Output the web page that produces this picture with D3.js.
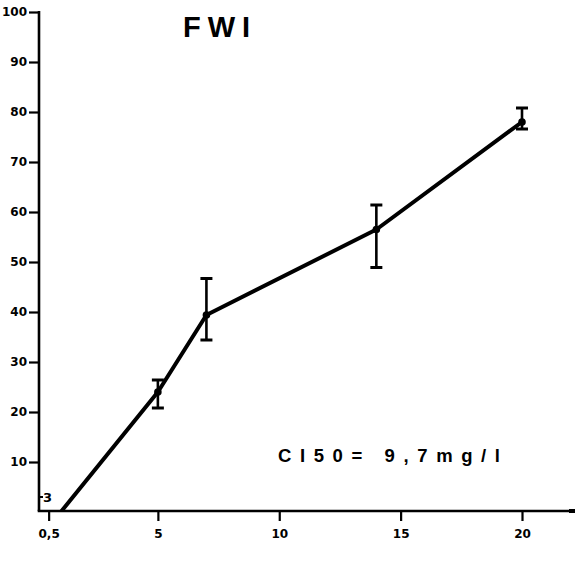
<!DOCTYPE html>
<html>
<head>
<meta charset="utf-8">
<script src="https://cdn.jsdelivr.net/npm/d3@7"></script>
<style>
  html, body { margin: 0; padding: 0; background: #fff; }
  svg { display: block; }
  .tick text { font-family: "DejaVu Sans", sans-serif; font-weight: bold; font-size: 12px; fill: #000; }
  .tick line { stroke: #000; stroke-width: 2.2px; }
</style>
</head>
<body>
<script>
// Concentration (mg/l) and mean response (%) with error bar limits
const concentrations = [0.5, 5, 7, 14, 20];
const responses      = [-3, 24, 39.4, 56.5, 78];
const errLow         = [null, 20.8, 34.4, 48.9, 76.6];
const errHigh        = [null, 26.4, 46.7, 61.4, 80.8];

const xTicks = [0.5, 5, 10, 15, 20];
const xTickLabels = ["0,5", "5", "10", "15", "20"];
const yTicks = [10, 20, 30, 40, 50, 60, 70, 80, 90, 100];

const titleText = "FWI";
const noteText = "CI50= 9,7mg/l";

const W = 587, H = 561;
const svg = d3.select("body").append("svg").attr("width", W).attr("height", H);

const x = d3.scaleLinear().domain([0, 20]).range([36.5, 522]);
const y = d3.scaleLinear().domain([0, 100]).range([512, 12]);
const axisX = 39, axisY = 511;

// clip so the curve stops at the x axis
svg.append("defs").append("clipPath").attr("id", "plotArea")
  .append("rect").attr("x", axisX).attr("y", 0).attr("width", W).attr("height", axisY);

// y axis
const gy = svg.append("g").attr("transform", `translate(${axisX},0)`)
  .call(d3.axisLeft(y).tickValues(yTicks).tickSize(10).tickPadding(2).tickFormat(d3.format("d")));
gy.select(".domain").remove();
gy.append("line").attr("x1", 0).attr("x2", 0).attr("y1", y(100) - 1).attr("y2", axisY)
  .attr("stroke", "#000").attr("stroke-width", 2.6);

// inner tick at 3
svg.append("line").attr("x1", axisX).attr("x2", axisX + 4)
  .attr("y1", y(3)).attr("y2", y(3)).attr("stroke", "#000").attr("stroke-width", 2);
svg.append("text").attr("x", axisX + 4).attr("y", y(3) + 5)
  .attr("font-family", "DejaVu Sans, sans-serif").attr("font-weight", "bold").attr("font-size", 13)
  .text("3");

// x axis
const gx = svg.append("g").attr("transform", `translate(0,${axisY})`)
  .call(d3.axisBottom(x).tickValues(xTicks).tickSize(10).tickPadding(8)
    .tickFormat((d, i) => xTickLabels[i]));
gx.select(".domain").remove();
gx.append("line").attr("x1", axisX - 1.3).attr("x2", 575).attr("y1", 0).attr("y2", 0)
  .attr("stroke", "#000").attr("stroke-width", 2.6);
gx.append("rect").attr("x", 569).attr("y", -2).attr("width", 6).attr("height", 4).attr("fill", "#000");

// response curve
const pts = concentrations.map((c, i) => ({ c, v: responses[i], lo: errLow[i], hi: errHigh[i] }));
svg.append("path")
  .datum(pts)
  .attr("clip-path", "url(#plotArea)")
  .attr("fill", "none").attr("stroke", "#000").attr("stroke-width", 4)
  .attr("stroke-linejoin", "round")
  .attr("d", d3.line().x(d => x(d.c)).y(d => y(d.v)));

// error bars
const eb = svg.append("g").selectAll("g").data(pts.filter(d => d.lo !== null)).join("g");
eb.append("line").attr("x1", d => x(d.c)).attr("x2", d => x(d.c))
  .attr("y1", d => y(d.lo)).attr("y2", d => y(d.hi)).attr("stroke", "#000").attr("stroke-width", 2.6);
eb.append("line").attr("x1", d => x(d.c) - 6).attr("x2", d => x(d.c) + 6)
  .attr("y1", d => y(d.hi)).attr("y2", d => y(d.hi)).attr("stroke", "#000").attr("stroke-width", 3);
eb.append("line").attr("x1", d => x(d.c) - 6).attr("x2", d => x(d.c) + 6)
  .attr("y1", d => y(d.lo)).attr("y2", d => y(d.lo)).attr("stroke", "#000").attr("stroke-width", 3);
eb.append("circle").attr("cx", d => x(d.c)).attr("cy", d => y(d.v)).attr("r", 3.8).attr("fill", "#000");

// title and annotation
svg.append("text").attr("x", 183).attr("y", 37)
  .attr("font-family", "Liberation Sans, Arial, sans-serif").attr("font-weight", "bold")
  .attr("font-size", 29).attr("letter-spacing", 7).text(titleText);

svg.append("text").attr("x", 278).attr("y", 462)
  .attr("font-family", "Liberation Sans, Arial, sans-serif").attr("font-weight", "bold")
  .attr("font-size", 18.5).attr("letter-spacing", 8.6).text(noteText);
</script>
</body>
</html>
